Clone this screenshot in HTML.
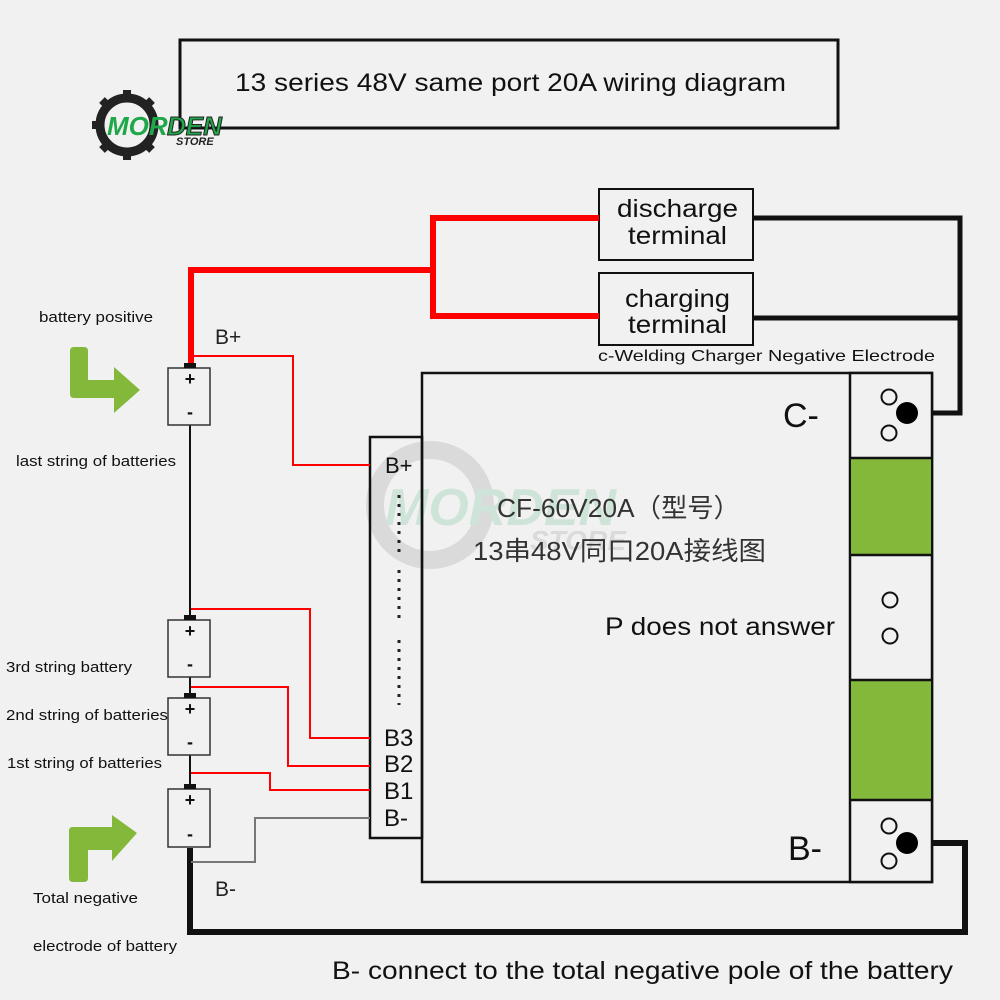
<!DOCTYPE html>
<html><head><meta charset="utf-8"><style>
html,body{margin:0;padding:0;background:#f1f1f1;}
svg{display:block;}
text{font-family:"Liberation Sans","Noto Sans CJK SC",sans-serif;}
</style></head><body>
<svg width="1000" height="1000" viewBox="0 0 1000 1000" xmlns="http://www.w3.org/2000/svg">
<rect width="1000" height="1000" fill="#f1f1f1"/>
<!-- title -->
<rect x="180" y="40" width="658" height="88" fill="none" stroke="#111" stroke-width="3"/>
<text x="235" y="91" font-size="25" fill="#111" textLength="551" lengthAdjust="spacingAndGlyphs">13 series 48V same port 20A wiring diagram</text>
<!-- logo -->
<g>
<circle cx="127" cy="125" r="27" fill="none" stroke="#222" stroke-width="9"/>
<g stroke="#222" stroke-width="8">
<line x1="127" y1="90" x2="127" y2="100"/><line x1="127" y1="150" x2="127" y2="160"/>
<line x1="92" y1="125" x2="102" y2="125"/>
<line x1="102" y1="100" x2="109" y2="107"/><line x1="102" y1="150" x2="109" y2="143"/>
<line x1="152" y1="100" x2="145" y2="107"/><line x1="152" y1="150" x2="145" y2="143"/>
</g>
<text x="107" y="135" font-size="26" font-weight="bold" font-style="italic" fill="#1fa84a">MOR</text>
<text x="167" y="135" font-size="26" font-weight="bold" font-style="italic" fill="#1fa84a" stroke="#222" stroke-width="1">DEN</text>
<text x="176" y="145" font-size="11" font-weight="bold" font-style="italic" fill="#222">STORE</text>
</g>
<!-- terminals -->
<rect x="599" y="189" width="154" height="71" fill="none" stroke="#111" stroke-width="2"/>
<text x="617" y="217" font-size="25" fill="#111" textLength="121" lengthAdjust="spacingAndGlyphs">discharge</text>
<text x="628" y="244" font-size="25" fill="#111" textLength="99" lengthAdjust="spacingAndGlyphs">terminal</text>
<rect x="599" y="273" width="154" height="72" fill="none" stroke="#111" stroke-width="2"/>
<text x="625" y="307" font-size="25" fill="#111" textLength="105" lengthAdjust="spacingAndGlyphs">charging</text>
<text x="628" y="333" font-size="25" fill="#111" textLength="99" lengthAdjust="spacingAndGlyphs">terminal</text>
<text x="598" y="361" font-size="16" fill="#111" textLength="337" lengthAdjust="spacingAndGlyphs">c-Welding Charger Negative Electrode</text>
<!-- red thick -->
<polyline points="191,365 191,270 433,270" fill="none" stroke="#f00" stroke-width="6"/>
<polyline points="599,218 433,218 433,316 599,316" fill="none" stroke="#f00" stroke-width="6"/>
<!-- black thick -->
<polyline points="753,218 960,218 960,413 907,413" fill="none" stroke="#111" stroke-width="5"/>
<line x1="753" y1="318" x2="960" y2="318" stroke="#111" stroke-width="5"/>
<polyline points="190,848 190,932 965,932 965,843 907,843" fill="none" stroke="#111" stroke-width="6"/>
<!-- board -->
<rect x="422" y="373" width="510" height="509" fill="#f1f1f1" stroke="#111" stroke-width="2.5"/>
<rect x="850" y="373" width="82" height="509" fill="#f1f1f1" stroke="#111" stroke-width="2.5"/>
<rect x="851" y="458" width="80" height="97" fill="#84b83a"/>
<rect x="851" y="680" width="80" height="120" fill="#84b83a"/>
<line x1="850" y1="458" x2="932" y2="458" stroke="#111" stroke-width="2.5"/>
<line x1="850" y1="555" x2="932" y2="555" stroke="#111" stroke-width="2.5"/>
<line x1="850" y1="680" x2="932" y2="680" stroke="#111" stroke-width="2.5"/>
<line x1="850" y1="800" x2="932" y2="800" stroke="#111" stroke-width="2.5"/>
<g fill="none" stroke="#111" stroke-width="2">
<circle cx="889" cy="397" r="7.5"/><circle cx="889" cy="433" r="7.5"/>
<circle cx="890" cy="600" r="7.5"/><circle cx="890" cy="636" r="7.5"/>
<circle cx="889" cy="826" r="7.5"/><circle cx="889" cy="861" r="7.5"/>
</g>
<circle cx="907" cy="413" r="11" fill="#000"/>
<circle cx="907" cy="843" r="11" fill="#000"/>
<text x="783" y="427" font-size="34" fill="#111">C-</text>
<text x="788" y="860" font-size="34" fill="#111">B-</text>
<!-- watermark -->
<g opacity="0.25">
<circle cx="430" cy="505" r="55" fill="none" stroke="#999" stroke-width="18"/>
<text x="385" y="525" font-size="52" font-weight="bold" font-style="italic" fill="#6fc08f">MORDEN</text>
<text x="530" y="550" font-size="28" font-weight="bold" font-style="italic" fill="#999">STORE</text>
</g>
<text x="497" y="517" font-size="26" fill="#333" textLength="243" lengthAdjust="spacingAndGlyphs">CF-60V20A（型号）</text>
<text x="473" y="560" font-size="26" fill="#333" textLength="293" lengthAdjust="spacingAndGlyphs">13串48V同口20A接线图</text>
<text x="605" y="635" font-size="25" fill="#111" textLength="230" lengthAdjust="spacingAndGlyphs">P does not answer</text>
<!-- strip -->
<rect x="370" y="437" width="52" height="401" fill="none" stroke="#111" stroke-width="2.5"/>
<text x="385" y="473" font-size="22" fill="#111">B+</text>
<g stroke="#222" stroke-width="3" stroke-dasharray="3,6">
<line x1="399" y1="495" x2="399" y2="555"/>
<line x1="399" y1="570" x2="399" y2="620"/>
<line x1="399" y1="640" x2="399" y2="705"/>
</g>
<text x="384" y="746" font-size="24" fill="#111">B3</text>
<text x="384" y="772" font-size="24" fill="#111">B2</text>
<text x="384" y="799" font-size="24" fill="#111">B1</text>
<text x="384" y="826" font-size="24" fill="#111">B-</text>
<!-- thin wires -->
<g fill="none" stroke-width="2">
<polyline points="191,356 293,356 293,465 370,465" stroke="#f00"/>
<polyline points="191,609 310,609 310,738 370,738" stroke="#f00"/>
<polyline points="191,687 288,687 288,766 370,766" stroke="#f00"/>
<polyline points="191,773 270,773 270,790 370,790" stroke="#f00"/>
<polyline points="191,862 255,862 255,818 370,818" stroke="#777"/>
<line x1="190" y1="425" x2="190" y2="620" stroke="#111"/>
<line x1="190" y1="677" x2="190" y2="698" stroke="#111"/>
<line x1="190" y1="755" x2="190" y2="788" stroke="#111"/>
</g>
<!-- batteries -->
<g fill="#f1f1f1" stroke="#333" stroke-width="1.5">
<rect x="168" y="368" width="42" height="57"/>
<rect x="168" y="620" width="42" height="57"/>
<rect x="168" y="698" width="42" height="57"/>
<rect x="168" y="789" width="42" height="58"/>
</g>
<g fill="#111">
<rect x="184" y="363" width="12" height="5"/><rect x="184" y="615" width="12" height="5"/>
<rect x="184" y="693" width="12" height="5"/><rect x="184" y="784" width="12" height="5"/>
</g>
<g font-size="18" font-weight="bold" fill="#111" text-anchor="middle">
<text x="190" y="385">+</text><text x="190" y="418">-</text>
<text x="190" y="637">+</text><text x="190" y="670">-</text>
<text x="190" y="715">+</text><text x="190" y="748">-</text>
<text x="190" y="806">+</text><text x="190" y="840">-</text>
</g>
<text x="215" y="344" font-size="21" fill="#222">B+</text>
<text x="215" y="896" font-size="21" fill="#222">B-</text>
<!-- arrows -->
<path d="M74,347 L84,347 Q88,347 88,351 L88,380 L114,380 L114,367 L140,390 L114,413 L114,398 L74,398 Q70,398 70,394 L70,351 Q70,347 74,347 Z" fill="#84b83a"/>
<path d="M73,882 L84,882 Q88,882 88,878 L88,850 L112,850 L112,861 L137,833 L112,815 L112,827 L73,827 Q69,827 69,831 L69,878 Q69,882 73,882 Z" fill="#84b83a"/>
<!-- labels -->
<g font-size="15" fill="#111">
<text x="39" y="322" textLength="114" lengthAdjust="spacingAndGlyphs">battery positive</text>
<text x="16" y="466" textLength="160" lengthAdjust="spacingAndGlyphs">last string of batteries</text>
<text x="6" y="672" textLength="126" lengthAdjust="spacingAndGlyphs">3rd string battery</text>
<text x="6" y="720" textLength="162" lengthAdjust="spacingAndGlyphs">2nd string of batteries</text>
<text x="7" y="768" textLength="155" lengthAdjust="spacingAndGlyphs">1st string of batteries</text>
<text x="33" y="903" textLength="105" lengthAdjust="spacingAndGlyphs">Total negative</text>
<text x="33" y="951" textLength="144" lengthAdjust="spacingAndGlyphs">electrode of battery</text>
</g>
<text x="332" y="979" font-size="25" fill="#111" textLength="621" lengthAdjust="spacingAndGlyphs">B- connect to the total negative pole of the battery</text>
</svg>
</body></html>
